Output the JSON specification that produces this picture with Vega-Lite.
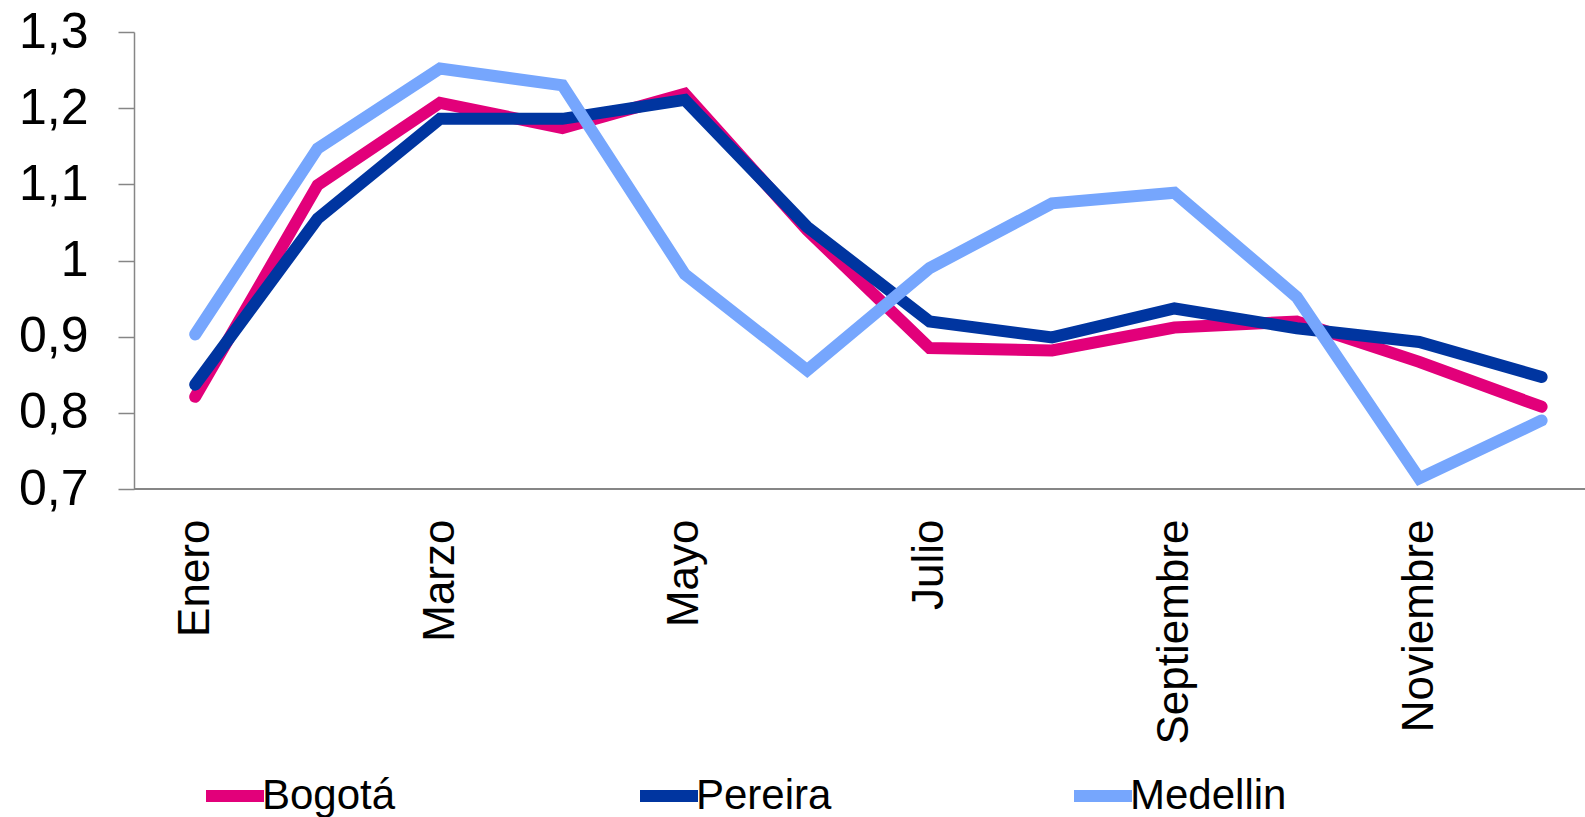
{
  "$schema": "https://vega.github.io/schema/vega-lite/v6.json",
  "autosize": {"type": "none"},
  "padding": {"left": 134, "top": 32, "right": 0, "bottom": 328},
  "width": 1451,
  "height": 457,
  "background": "white",
  "config": {"view": {"stroke": null}, "font": "Liberation Sans"},
  "data": {"values": [
    {"mes": "Enero", "ciudad": "Bogotá", "valor": 0.821},
    {"mes": "Febrero", "ciudad": "Bogotá", "valor": 1.099},
    {"mes": "Marzo", "ciudad": "Bogotá", "valor": 1.207},
    {"mes": "Abril", "ciudad": "Bogotá", "valor": 1.174},
    {"mes": "Mayo", "ciudad": "Bogotá", "valor": 1.219},
    {"mes": "Junio", "ciudad": "Bogotá", "valor": 1.040},
    {"mes": "Julio", "ciudad": "Bogotá", "valor": 0.885},
    {"mes": "Agosto", "ciudad": "Bogotá", "valor": 0.882},
    {"mes": "Septiembre", "ciudad": "Bogotá", "valor": 0.912},
    {"mes": "Octubre", "ciudad": "Bogotá", "valor": 0.920},
    {"mes": "Noviembre", "ciudad": "Bogotá", "valor": 0.867},
    {"mes": "Diciembre", "ciudad": "Bogotá", "valor": 0.808},
    {"mes": "Enero", "ciudad": "Pereira", "valor": 0.837},
    {"mes": "Febrero", "ciudad": "Pereira", "valor": 1.055},
    {"mes": "Marzo", "ciudad": "Pereira", "valor": 1.186},
    {"mes": "Abril", "ciudad": "Pereira", "valor": 1.186},
    {"mes": "Mayo", "ciudad": "Pereira", "valor": 1.211},
    {"mes": "Junio", "ciudad": "Pereira", "valor": 1.044},
    {"mes": "Julio", "ciudad": "Pereira", "valor": 0.920},
    {"mes": "Agosto", "ciudad": "Pereira", "valor": 0.899},
    {"mes": "Septiembre", "ciudad": "Pereira", "valor": 0.937},
    {"mes": "Octubre", "ciudad": "Pereira", "valor": 0.911},
    {"mes": "Noviembre", "ciudad": "Pereira", "valor": 0.893},
    {"mes": "Diciembre", "ciudad": "Pereira", "valor": 0.847},
    {"mes": "Enero", "ciudad": "Medellin", "valor": 0.903},
    {"mes": "Febrero", "ciudad": "Medellin", "valor": 1.147},
    {"mes": "Marzo", "ciudad": "Medellin", "valor": 1.252},
    {"mes": "Abril", "ciudad": "Medellin", "valor": 1.230},
    {"mes": "Mayo", "ciudad": "Medellin", "valor": 0.982},
    {"mes": "Junio", "ciudad": "Medellin", "valor": 0.856},
    {"mes": "Julio", "ciudad": "Medellin", "valor": 0.990},
    {"mes": "Agosto", "ciudad": "Medellin", "valor": 1.075},
    {"mes": "Septiembre", "ciudad": "Medellin", "valor": 1.089},
    {"mes": "Octubre", "ciudad": "Medellin", "valor": 0.952},
    {"mes": "Noviembre", "ciudad": "Medellin", "valor": 0.714},
    {"mes": "Diciembre", "ciudad": "Medellin", "valor": 0.790}
  ]},
  "layer": [
    {
      "mark": {"type": "rule", "color": "#868686", "strokeWidth": 1.5},
      "encoding": {"y": {"datum": 0.7, "type": "quantitative"}}
    },
    {
      "mark": {"type": "line", "strokeWidth": 12, "strokeCap": "round", "clip": false},
      "encoding": {
        "x": {
          "field": "mes", "type": "ordinal",
          "sort": ["Enero","Febrero","Marzo","Abril","Mayo","Junio","Julio","Agosto","Septiembre","Octubre","Noviembre","Diciembre"],
          "scale": {"type": "point", "range": [61.2, 1407.6], "padding": 0},
          "axis": {
            "title": null, "domain": false, "ticks": false, "tickSize": 0, "grid": false,
            "values": ["Enero","Marzo","Mayo","Julio","Septiembre","Noviembre"],
            "labelAngle": -90, "labelAlign": "right", "labelBaseline": "middle",
            "labelPadding": 30, "labelFontSize": 44, "labelColor": "#000000",
            "labelFont": "Liberation Sans", "labelLimit": 400, "labelOverlap": false
          }
        },
        "y": {
          "field": "valor", "type": "quantitative",
          "scale": {"domain": [0.7, 1.3], "nice": false, "zero": false},
          "axis": {
            "title": null, "grid": false,
            "values": [0.7, 0.8, 0.9, 1.0, 1.1, 1.2, 1.3],
            "labelExpr": "replace(format(datum.value, '.1~f'), '.', ',')",
            "domainColor": "#868686", "domainWidth": 1.5,
            "tickColor": "#868686", "tickWidth": 1.5, "tickSize": 16,
            "labelPadding": 30, "labelFontSize": 50, "labelColor": "#000000",
            "labelFont": "Liberation Sans", "labelOverlap": false
          }
        },
        "color": {
          "field": "ciudad", "type": "nominal",
          "sort": ["Bogotá", "Pereira", "Medellin"],
          "scale": {"domain": ["Bogotá", "Pereira", "Medellin"], "range": ["#E2007A", "#0035A0", "#76A6FD"]},
          "legend": {
            "title": null, "orient": "none", "legendX": 66, "legendY": 729,
            "direction": "horizontal", "columns": 3, "gridAlign": "all", "columnPadding": 197,
            "symbolType": "stroke", "symbolSize": 3364, "symbolStrokeWidth": 12,
            "labelFontSize": 42, "labelFont": "Liberation Sans", "labelColor": "#000000",
            "labelOffset": -8, "labelLimit": 400
          }
        }
      }
    }
  ]
}
